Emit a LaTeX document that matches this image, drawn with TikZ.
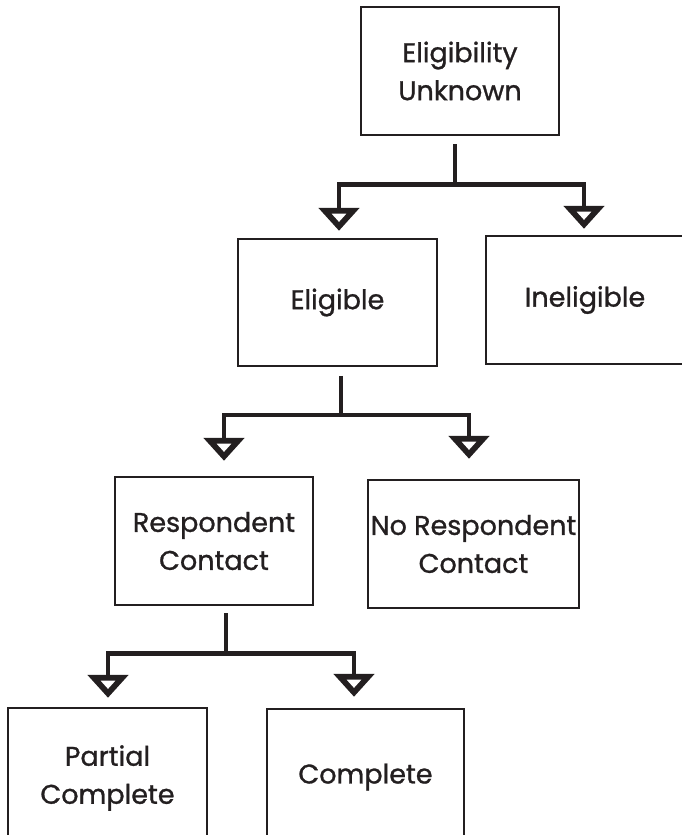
\documentclass[tikz,border=0pt]{standalone}
\usepackage{fontspec}
\setmainfont{Poppins}[FakeBold=1]
\usetikzlibrary{arrows.meta}
\definecolor{ink}{RGB}{35,31,32}

\begin{document}
\begin{tikzpicture}[x=1pt,y=-1pt,
		state/.style = {rectangle,draw=ink,line width=2.5pt,align=center,text=ink,
			inner sep=0pt,font=\fontsize{27}{38}\selectfont},
		link/.style = {draw=ink,line width=4.5pt},
		split/.style = {link,-{Triangle[open,length=23pt,width=40pt,line width=7pt]}}]
		
		\useasboundingbox (0,0) rectangle (681,835);
		
		% boxes
		\node[state,minimum width=198pt,minimum height=128pt] (unk) at (460,71) {Eligibility\\Unknown};
		\node[state,minimum width=199pt,minimum height=127pt] (elig) at (337.5,302.5) {Eligible};
		\node[state,minimum width=198pt,minimum height=128pt] (inel) at (585,300) {Ineligible};
		\node[state,minimum width=198pt,minimum height=128pt] (rc) at (214,541) {Respondent\\Contact};
		\node[state,minimum width=211pt,minimum height=128pt] (nrc) at (473.5,544) {No Respondent\\Contact};
		\node[state,minimum width=199pt,minimum height=140pt] (pc) at (107.5,778) {Partial\\Complete};
		\node[state,minimum width=197pt,minimum height=136pt] (comp) at (365.5,777) {Complete};
		
		% connectors
		\draw[link] ([xshift=-5pt,yshift=-8pt]unk.south) -- ++(0,40) coordinate (j1);
		\draw[split] (j1) -| ([xshift=1.5pt,yshift=7pt]elig.north);
		\draw[split] (j1) -| ([xshift=-1pt,yshift=6pt]inel.north);
		
		\draw[link] ([xshift=3.5pt,yshift=-8.5pt]elig.south) -- ++(0,39) coordinate (j2);
		\draw[split] (j2) -| ([xshift=10pt,yshift=15pt]rc.north);
		\draw[split] (j2) -| ([xshift=-4.5pt,yshift=20pt]nrc.north);
		
		\draw[link] ([xshift=12pt,yshift=-7pt]rc.south) -- ++(0,40) coordinate (j3);
		\draw[split] (j3) -| ([xshift=0.5pt,yshift=9pt]pc.north);
		\draw[split] (j3) -| ([xshift=-11.5pt,yshift=11pt]comp.north);
		\end{tikzpicture}
\end{document}
